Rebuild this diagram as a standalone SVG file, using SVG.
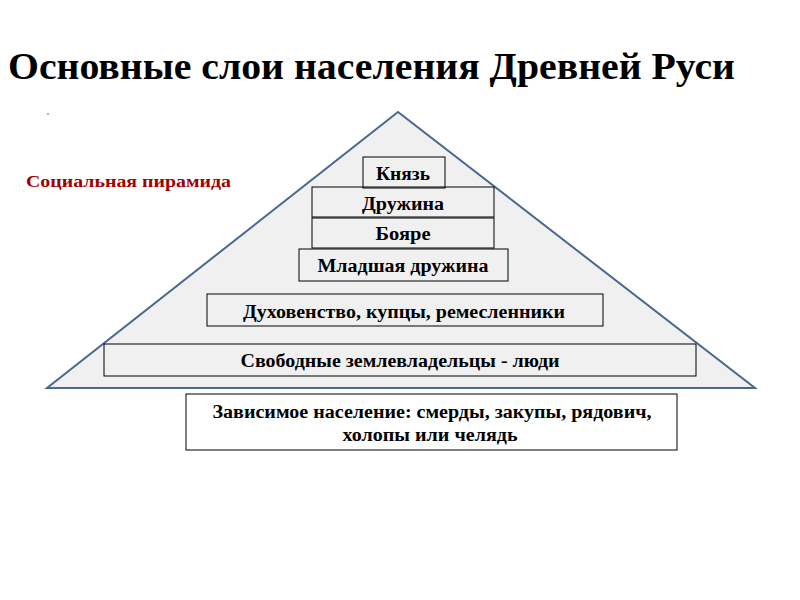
<svg xmlns="http://www.w3.org/2000/svg" width="800" height="600" viewBox="0 0 800 600">
<style>
.t{font-family:"Liberation Serif","DejaVu Serif",serif;font-weight:bold;fill:#000}
.b{font-size:18px;text-anchor:middle}
.box{fill:none;stroke:#000;stroke-width:1}
</style>
<rect width="800" height="600" fill="#fff"/>
<text class="t" x="8" y="79" font-size="38" textLength="727" lengthAdjust="spacingAndGlyphs">Основные слои населения Древней Руси</text>
<circle cx="48" cy="114" r="0.8" fill="#555"/>
<text class="t" x="26" y="187" font-size="17" style="fill:#a00000" textLength="205" lengthAdjust="spacingAndGlyphs">Социальная пирамида</text>
<g id="pyramid">
<polygon points="398,112 47,388 755,388" fill="#f0f0f0" stroke="#4a6790" stroke-width="2"/>
</g>
<g id="knyaz"><rect class="box" x="363" y="157" width="82" height="31"/><text class="t b" x="403" y="180" textLength="54" lengthAdjust="spacingAndGlyphs">Князь</text></g>
<g id="druzhina"><rect class="box" x="312" y="187" width="182" height="30"/><text class="t b" x="403" y="210" textLength="82" lengthAdjust="spacingAndGlyphs">Дружина</text></g>
<g id="boyare"><rect class="box" x="312" y="218" width="182" height="30"/><text class="t b" x="403" y="240" textLength="55" lengthAdjust="spacingAndGlyphs">Бояре</text></g>
<g id="mladshaya"><rect class="box" x="299" y="249" width="209" height="32"/><text class="t b" x="403" y="272" textLength="171" lengthAdjust="spacingAndGlyphs">Младшая дружина</text></g>
<g id="duhovenstvo"><rect class="box" x="207" y="294" width="396" height="32"/><text class="t b" x="404" y="318" textLength="322" lengthAdjust="spacingAndGlyphs">Духовенство, купцы, ремесленники</text></g>
<g id="svobodnye"><rect class="box" x="104" y="344" width="592" height="32"/><text class="t b" x="400" y="367" textLength="319" lengthAdjust="spacingAndGlyphs">Свободные землевладельцы - люди</text></g>
<g id="zavisimoe"><rect x="186" y="394" width="491" height="56" fill="#fff" stroke="#000"/><text class="t b" x="432" y="418" textLength="439" lengthAdjust="spacingAndGlyphs">Зависимое население: смерды, закупы, рядович,</text><text class="t b" x="430" y="441" textLength="175" lengthAdjust="spacingAndGlyphs">холопы или челядь</text></g>
<g id="connectors"></g>
</svg>
